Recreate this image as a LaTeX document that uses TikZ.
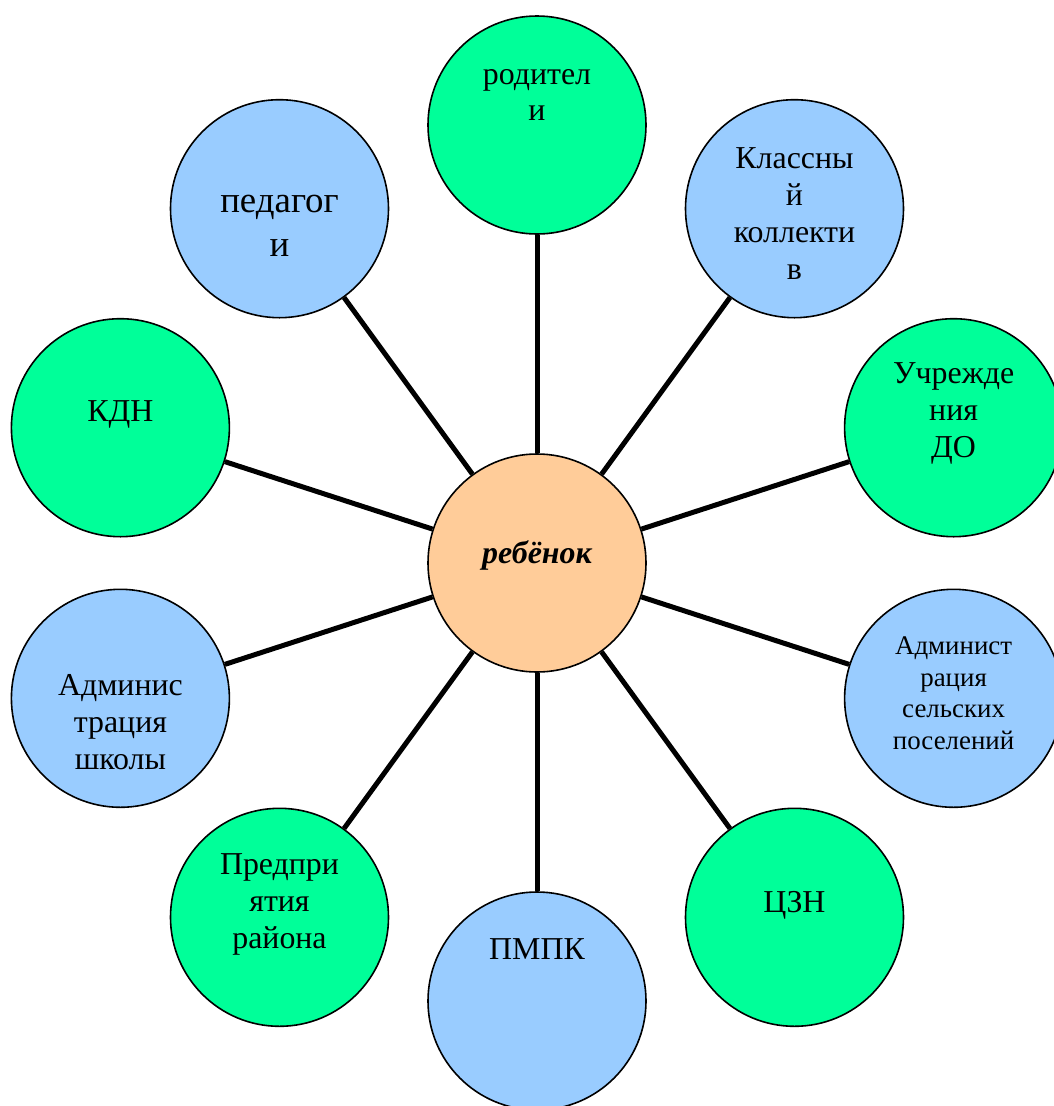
\documentclass[tikz,border=0pt]{standalone}
\usepackage{fontspec}
\setmainfont{Liberation Serif}
\definecolor{cgreen}{RGB}{0,255,153}
\definecolor{cblue}{RGB}{153,204,255}
\definecolor{cpeach}{RGB}{255,204,153}
\tikzset{
  circ/.style={circle,draw=black,line width=1.6bp,minimum size=218bp,inner sep=0pt},
  gcirc/.style={circ,fill=cgreen},
  bcirc/.style={circ,fill=cblue},
  txt/.style={align=center,inner sep=0pt,font=\fontsize{32}{37}\selectfont},
  spoke/.style={line width=5bp,black}
}
\begin{document}
\begin{tikzpicture}[x=1bp,y=-1bp]
\clip (0,0) rectangle (1054,1106);
\fill[white] (0,0) rectangle (1054,1106);
% centre
\node[circ,fill=cpeach] (c) at (537,563) {};
% outer circles
\node[gcirc] (rod) at (537,125) {};
\node[bcirc] (kl) at (794.5,208.7) {};
\node[gcirc] (uch) at (953.6,427.7) {};
\node[bcirc] (ads) at (953.6,698.3) {};
\node[gcirc] (czn) at (794.5,917.3) {};
\node[bcirc] (pmpk) at (537,1001) {};
\node[gcirc] (pred) at (279.5,917.3) {};
\node[bcirc] (adsh) at (120.4,698.3) {};
\node[gcirc] (kdn) at (120.4,427.7) {};
\node[bcirc] (ped) at (279.5,208.7) {};
% spokes
\foreach \n in {rod,kl,uch,ads,czn,pmpk,pred,adsh,kdn,ped}
  \draw[spoke] (c) -- (\n);
% texts
\node[txt] (trod) at ([yshift=30bp]rod.center) {родител\\и};
\node[txt] (tkl) at ([yshift=-5bp]kl.center) {Классны\\й\\коллекти\\в};
\node[txt] (tuch) at ([yshift=14bp]uch.center) {Учрежде\\ния\\ДО};
\node[txt,font=\fontsize{27}{31.5}\selectfont] (tads) at ([yshift=5bp]ads.center) {Админист\\рация\\сельских\\поселений};
\node[txt] (tczn) at ([yshift=12bp]czn.center) {ЦЗН};
\node[txt] (tpmpk) at ([yshift=52bp]pmpk.center) {ПМПК};
\node[txt] (tpred) at ([yshift=13bp]pred.center) {Предпри\\ятия\\района};
\node[txt] (tadsh) at ([yshift=-24bp]adsh.center) {Админис\\трация\\школы};
\node[txt] (tkdn) at ([yshift=13bp]kdn.center) {КДН};
\node[txt,font=\fontsize{37}{44}\selectfont] (tped) at ([yshift=-17bp]ped.center) {педагог\\и};
\node[txt,font=\fontsize{32}{37}\selectfont\bfseries\itshape] (tc) at ([yshift=8bp]c.center) {ребёнок};
\end{tikzpicture}
\end{document}
